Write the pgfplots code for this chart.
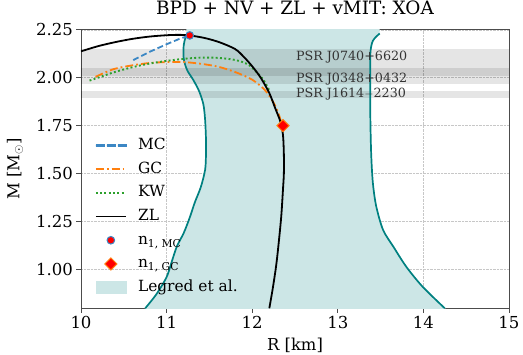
\documentclass[border=0pt]{standalone}
\usepackage{pgfplots}
\pgfplotsset{compat=1.18}
\usepackage{fontspec}
\setmainfont{DejaVu Serif}
\definecolor{tabblue}{RGB}{31,119,180}
\definecolor{mcblue}{RGB}{60,135,196}
\definecolor{taborange}{RGB}{255,127,14}
\definecolor{tabgreen}{RGB}{44,160,44}
\definecolor{tealc}{RGB}{0,128,128}
\definecolor{tealfill}{RGB}{204,230,230}
\begin{document}
\begin{tikzpicture}
\begin{axis}[
  scale only axis, width=428pt, height=279pt,
  xmin=10, xmax=15, ymin=0.797, ymax=2.253,
  xtick={10,11,12,13,14,15},
  ytick={1.00,1.25,1.50,1.75,2.00,2.25},
  yticklabel style={/pgf/number format/.cd,fixed,fixed zerofill,precision=2},
  /pgf/number format/assume math mode=true,
  tick label style={font=\fontsize{16.5}{19}\selectfont},
  label style={font=\fontsize{16.4}{19}\selectfont},
  title style={font=\fontsize{18.4}{21}\selectfont, at={(axis description cs:0.5,1.057)}, anchor=center},
  title={BPD + NV + ZL + vMIT: XOA},
  xlabel={R [km]}, ylabel={M [M$_\odot$]},
  xlabel style={at={(axis description cs:0.5,-0.1315)}, anchor=center},
  ylabel style={at={(axis description cs:-0.1542,0.5)}, anchor=center, rotate=0},
  tick pos=left, tick align=outside, major tick length=4.5pt,
  axis line style={black!70, line width=0.9pt},
  every tick/.style={black!70, line width=0.9pt},
  grid=major, grid style={densely dotted, black!22, line width=0.7pt},
  legend style={draw=none, fill=none, at={(0.025,0.622)}, anchor=north west,
    font=\fontsize{15.4}{18}\selectfont, row sep=6.7pt,
    nodes={inner sep=1pt, text height=11.5pt, text depth=3.5pt}},
  legend cell align=left,
]
% legend
\addlegendimage{legend image code/.code={\fill[mcblue] (0pt,-0.9pt) rectangle (8pt,0.9pt) (11pt,-0.9pt) rectangle (19pt,0.9pt) (22pt,-0.9pt) rectangle (30pt,0.9pt); \path (41pt,0pt);}}
\addlegendentry{MC}
\addlegendimage{legend image code/.code={\draw[taborange, line width=1.8pt, dash pattern=on 8pt off 3pt on 1.8pt off 3pt] (0pt,0pt) -- (30pt,0pt); \path (41pt,0pt);}}
\addlegendentry{GC}
\addlegendimage{legend image code/.code={\draw[tabgreen, line width=1.9pt, dash pattern=on 1.9pt off 2.4pt] (0pt,0pt) -- (30pt,0pt); \path (41pt,0pt);}}
\addlegendentry{KW}
\addlegendimage{legend image code/.code={\draw[black, line width=1.8pt] (0pt,0pt) -- (30pt,0pt); \path (41pt,0pt);}}
\addlegendentry{ZL}
\addlegendimage{legend image code/.code={\fill[red, draw=mcblue, line width=1pt] (15pt,0pt) circle (3.8pt); \path (0pt,0pt) (41pt,0pt);}}
\addlegendentry{n\textsubscript{1, MC}}
\addlegendimage{legend image code/.code={\fill[red, draw=taborange, line width=1pt, rotate around={45:(15pt,0pt)}] (10.7pt,-4.3pt) rectangle (19.3pt,4.3pt); \path (0pt,0pt) (41pt,0pt);}}
\addlegendentry{n\textsubscript{1, GC}}
\addlegendimage{legend image code/.code={\fill[tealfill] (0pt,-6pt) rectangle (30pt,6pt); \path (41pt,0pt);}}
\addlegendentry{Legred et al.}
% Legred et al. band
\addplot[fill=tealfill, draw=none, forget plot] coordinates {
(11.23,2.30)(11.23,2.225)(11.2,2.17)(11.2,2.10)(11.24,2.04)(11.31,1.99)(11.38,1.93)(11.43,1.86)(11.45,1.78)(11.46,1.68)(11.46,1.60)(11.45,1.52)(11.40,1.43)(11.33,1.35)(11.27,1.27)(11.2,1.19)(11.12,1.12)(11.06,1.04)(11.0,0.96)(10.88,0.87)(10.75,0.797)(10.72,0.78)
(14.29,0.78)(14.25,0.797)(13.99,0.91)(13.80,1.014)(13.65,1.118)(13.53,1.205)(13.45,1.327)(13.41,1.45)(13.39,1.604)(13.38,1.80)(13.38,1.95)(13.38,2.124)(13.41,2.193)(13.49,2.231)(13.49,2.30)
} -- cycle;
% PSR bands
\addplot[fill=black, fill opacity=0.10, draw=none, forget plot] coordinates {(9,2.01)(16,2.01)(16,2.15)(9,2.15)} -- cycle;
\addplot[fill=black, fill opacity=0.10, draw=none, forget plot] coordinates {(9,1.97)(16,1.97)(16,2.05)(9,2.05)} -- cycle;
\addplot[fill=black, fill opacity=0.10, draw=none, forget plot] coordinates {(9,1.892)(16,1.892)(16,1.932)(9,1.932)} -- cycle;
% band edges
\addplot[tealc, line width=1.7pt, smooth, forget plot] coordinates {
(11.23,2.225)(11.2,2.17)(11.2,2.10)(11.24,2.04)(11.31,1.99)(11.38,1.93)(11.43,1.86)(11.45,1.78)(11.46,1.68)(11.46,1.60)(11.45,1.52)(11.40,1.43)(11.33,1.35)(11.27,1.27)(11.2,1.19)(11.12,1.12)(11.06,1.04)(11.0,0.96)(10.88,0.87)(10.75,0.797)};
\addplot[tealc, line width=1.7pt, smooth, forget plot] coordinates {
(14.25,0.797)(13.99,0.91)(13.80,1.014)(13.65,1.118)(13.53,1.205)(13.45,1.327)(13.41,1.45)(13.39,1.604)(13.38,1.80)(13.38,1.95)(13.38,2.124)(13.41,2.193)(13.49,2.231)};
% curves
\addplot[mcblue, line width=1.8pt, dash pattern=on 6pt off 3pt, forget plot] coordinates {
(10.61,2.092)(10.8,2.135)(11.0,2.175)(11.15,2.203)(11.27,2.221)};
\addplot[taborange, line width=1.8pt, dash pattern=on 8pt off 3pt on 1.8pt off 3pt, smooth, forget plot] coordinates {
(10.17,2.005)(10.38,2.045)(10.6,2.065)(10.8,2.077)(11.0,2.082)(11.2,2.082)(11.4,2.073)(11.6,2.058)(11.8,2.03)(12.0,1.99)(12.15,1.935)(12.25,1.87)(12.31,1.81)(12.35,1.75)};
\addplot[tabgreen, line width=1.9pt, dash pattern=on 1.9pt off 2.4pt, smooth, forget plot] coordinates {
(10.1,1.985)(10.38,2.028)(10.6,2.055)(10.8,2.074)(11.0,2.088)(11.2,2.099)(11.4,2.105)(11.6,2.104)(11.8,2.093)(11.95,2.07)(12.05,2.03)(12.13,1.99)(12.2,1.935)};
\addplot[black, line width=1.8pt, smooth, forget plot] coordinates {
(10.0,2.138)(10.2,2.165)(10.4,2.186)(10.6,2.203)(10.8,2.215)(11.0,2.222)(11.15,2.224)(11.27,2.221)(11.45,2.207)(11.62,2.185)(11.8,2.15)(11.9,2.11)(12.0,2.06)(12.1,2.00)(12.2,1.92)(12.27,1.84)(12.33,1.77)(12.36,1.70)(12.37,1.60)(12.37,1.50)(12.36,1.42)(12.34,1.28)(12.31,1.14)(12.28,1.02)(12.24,0.90)(12.2,0.797)};
% markers
\addplot[only marks, mark=*, mark size=3.8pt, mark options={fill=red, draw=mcblue, line width=1pt}, forget plot] coordinates {(11.27,2.221)};
\addplot[only marks, mark=square*, mark size=4.3pt, mark options={rotate=45, fill=red, draw=taborange, line width=1pt}, forget plot] coordinates {(12.36,1.75)};
% PSR labels
\addplot[only marks, mark=none, nodes near coords, point meta=explicit symbolic,
  nodes near coords style={anchor=west, inner sep=0pt, font=\fontsize{12.7}{15}\selectfont, text=black!80}, forget plot]
  coordinates {(12.51,2.106)[PSR J0740+6620] (12.51,1.994)[PSR J0348+0432] (12.51,1.916)[PSR J1614$-$2230]};
\end{axis}
\pgfresetboundingbox
\path (current axis.south west) ++(-81pt,-46.7pt) rectangle ++(523pt,355pt);
\end{tikzpicture}
\end{document}
